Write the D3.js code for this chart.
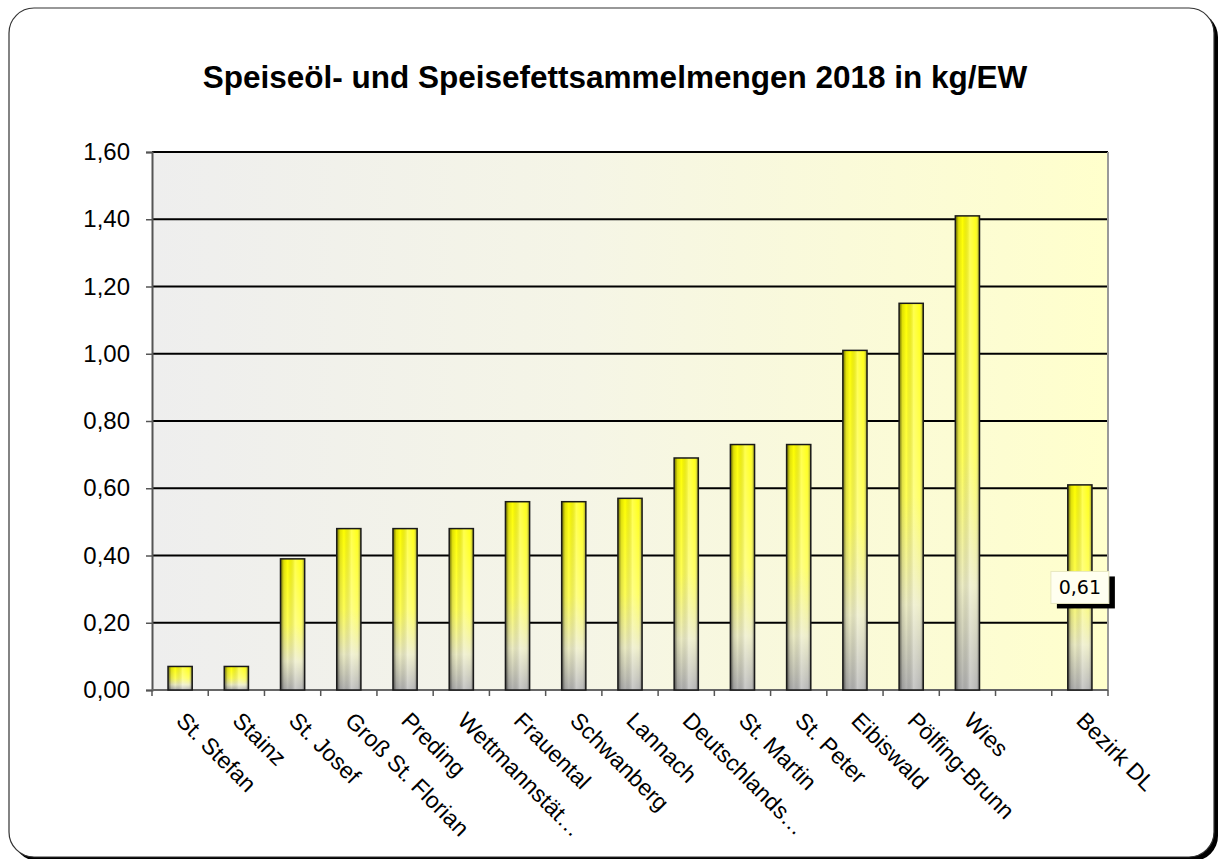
<!DOCTYPE html>
<html>
<head>
<meta charset="utf-8">
<title>Speiseöl- und Speisefettsammelmengen 2018</title>
<style>
body { margin: 0; background: #fff; }
text { font-family: "Liberation Sans", Arial, sans-serif; fill: #000; }
.title { font-size: 31.5px; font-weight: bold; }
.ylab { font-size: 24px; }
.xlab { font-size: 23px; }
.dlab { font-family: "DejaVu Sans", Verdana, sans-serif; font-size: 19px; }
</style>
</head>
<body>
<script src="https://cdn.jsdelivr.net/npm/d3@7"></script>
<script>
// Gemeinden (one empty slot before the district total, as in the original)
var categories = ["St. Stefan", "Stainz", "St. Josef", "Groß St. Florian", "Preding",
  "Wettmannstät…", "Frauental", "Schwanberg", "Lannach", "Deutschlands…",
  "St. Martin", "St. Peter", "Eibiswald", "Pölfing-Brunn", "Wies", "", "Bezirk DL"];
var values = [0.07, 0.07, 0.39, 0.48, 0.48, 0.48, 0.56, 0.56, 0.57, 0.69,
  0.73, 0.73, 1.01, 1.15, 1.41, null, 0.61];
var yTicks = [0, 0.2, 0.4, 0.6, 0.8, 1.0, 1.2, 1.4, 1.6];
var labelled = ["Bezirk DL"];   // bars that carry a value label
var title = "Speiseöl- und Speisefettsammelmengen 2018 in kg/EW";

var width = 1220, height = 859;
var plot = {left: 152, right: 1108, top: 152, bottom: 690};

var de = d3.formatLocale({decimal: ",", thousands: ".", grouping: [3], currency: ["", " €"]});
var fmt = de.format(".2f");

var svg = d3.select("body").append("svg")
  .attr("width", width)
  .attr("height", height);

var defs = svg.append("defs");

// plot background: grey on the left to pale yellow on the right
var bg = defs.append("linearGradient").attr("id", "plotbg")
  .attr("x1", "0%").attr("y1", "0%").attr("x2", "100%").attr("y2", "0%");
bg.append("stop").attr("offset", "0%").attr("stop-color", "#eeeeee");
bg.append("stop").attr("offset", "45%").attr("stop-color", "#f5f5e6");
bg.append("stop").attr("offset", "100%").attr("stop-color", "#ffffcc");

// bar colour: yellow on top, silver at the foot
var vg = defs.append("linearGradient").attr("id", "barv")
  .attr("x1", "0%").attr("y1", "0%").attr("x2", "0%").attr("y2", "100%");
[["0%", "#ffff00"], ["50%", "#ffff55"], ["78%", "#ececc4"], ["100%", "#b0b0b0"]].forEach(function(s) {
  vg.append("stop").attr("offset", s[0]).attr("stop-color", s[1]);
});

// cylinder shading across the bar
var hg = defs.append("linearGradient").attr("id", "barh")
  .attr("x1", "0%").attr("y1", "0%").attr("x2", "100%").attr("y2", "0%");
[["0%", "#000", 0.6], ["14%", "#000", 0.12], ["30%", "#000", 0], ["60%", "#fff", 0.3],
 ["85%", "#fff", 0.1], ["100%", "#000", 0.5]].forEach(function(s) {
  hg.append("stop").attr("offset", s[0]).attr("stop-color", s[1]).attr("stop-opacity", s[2]);
});

// card with drop shadow
svg.append("rect")
  .attr("x", 13).attr("y", 12).attr("width", 1205).attr("height", 849)
  .attr("rx", 25).attr("fill", "#000");
svg.append("rect")
  .attr("x", 9).attr("y", 8).attr("width", 1205).attr("height", 849)
  .attr("rx", 25).attr("fill", "#fff").attr("stroke", "#333").attr("stroke-width", 1.2);

svg.append("text")
  .attr("class", "title")
  .attr("x", 615).attr("y", 88)
  .attr("text-anchor", "middle")
  .text(title);

var x = d3.scaleBand().domain(categories).range([plot.left, plot.right]).padding(0);
var y = d3.scaleLinear().domain([0, 1.6]).range([plot.bottom, plot.top]);

svg.append("rect")
  .attr("x", plot.left).attr("y", plot.top)
  .attr("width", plot.right - plot.left).attr("height", plot.bottom - plot.top)
  .attr("fill", "url(#plotbg)");

// gridlines
svg.append("g")
  .selectAll("line")
  .data(yTicks.filter(function(d) { return d > 0; }))
  .enter().append("line")
  .attr("x1", plot.left).attr("x2", plot.right)
  .attr("y1", function(d) { return y(d); })
  .attr("y2", function(d) { return y(d); })
  .attr("stroke", "#000").attr("stroke-width", 2);

// right edge of the plot
svg.append("line")
  .attr("x1", plot.right).attr("x2", plot.right).attr("y1", plot.top).attr("y2", plot.bottom)
  .attr("stroke", "#999").attr("stroke-width", 2);

// y axis
var yAxis = svg.append("g")
  .attr("transform", "translate(" + plot.left + ",0)")
  .call(d3.axisLeft(y).tickValues(yTicks).tickFormat(fmt).tickSize(6).tickPadding(16));
yAxis.select(".domain").attr("stroke", "#555").attr("stroke-width", 2);
yAxis.selectAll(".tick line").attr("stroke", "#555").attr("stroke-width", 1.5);
yAxis.selectAll(".tick text").attr("class", "ylab");
yAxis.attr("font-family", null).attr("font-size", null);

// x axis baseline and ticks at category boundaries
svg.append("line")
  .attr("x1", plot.left).attr("x2", plot.right).attr("y1", plot.bottom).attr("y2", plot.bottom)
  .attr("stroke", "#666").attr("stroke-width", 2);
var bounds = categories.map(function(c) { return x(c); }).concat([plot.right]);
svg.append("g")
  .selectAll("line")
  .data(bounds)
  .enter().append("line")
  .attr("x1", function(d) { return d; }).attr("x2", function(d) { return d; })
  .attr("y1", plot.bottom).attr("y2", plot.bottom + 6)
  .attr("stroke", "#555").attr("stroke-width", 1.5);

// bars
var data = categories.map(function(c, i) { return {name: c, value: values[i]}; })
  .filter(function(d) { return d.value != null; });
var barW = x.bandwidth() * 0.43;

var bars = svg.append("g").selectAll("g")
  .data(data)
  .enter().append("g");
bars.append("rect")
  .attr("x", function(d) { return x(d.name) + (x.bandwidth() - barW) / 2; })
  .attr("y", function(d) { return y(d.value); })
  .attr("width", barW)
  .attr("height", function(d) { return y(0) - y(d.value); })
  .attr("fill", "url(#barv)");
bars.append("rect")
  .attr("x", function(d) { return x(d.name) + (x.bandwidth() - barW) / 2; })
  .attr("y", function(d) { return y(d.value); })
  .attr("width", barW)
  .attr("height", function(d) { return y(0) - y(d.value); })
  .attr("fill", "url(#barh)")
  .attr("stroke", "#1a1a1a").attr("stroke-width", 1.5);

// category labels, turned 45 degrees
svg.append("g")
  .selectAll("text")
  .data(categories)
  .enter().append("text")
  .attr("class", "xlab")
  .attr("transform", function(d) {
    return "translate(" + (x(d) + x.bandwidth() / 2 - 5) + "," + (plot.bottom + 32) + ") rotate(45)";
  })
  .text(function(d) { return d; });

// value label for the district total
var lab = svg.append("g").selectAll("g")
  .data(data.filter(function(d) { return labelled.indexOf(d.name) >= 0; }))
  .enter().append("g")
  .attr("transform", function(d) {
    return "translate(" + (x(d.name) + x.bandwidth() / 2) + "," + ((y(d.value) + y(0)) / 2) + ")";
  });
lab.append("rect")
  .attr("x", -23).attr("y", -11).attr("width", 58).attr("height", 32)
  .attr("fill", "#000");
lab.append("rect")
  .attr("x", -29).attr("y", -16).attr("width", 58).attr("height", 32)
  .attr("fill", "#fffff0").attr("stroke", "#e8e8c0").attr("stroke-width", 1);
lab.append("text")
  .attr("class", "dlab")
  .attr("text-anchor", "middle")
  .attr("y", 7)
  .text(function(d) { return fmt(d.value); });
</script>
</body>
</html>
